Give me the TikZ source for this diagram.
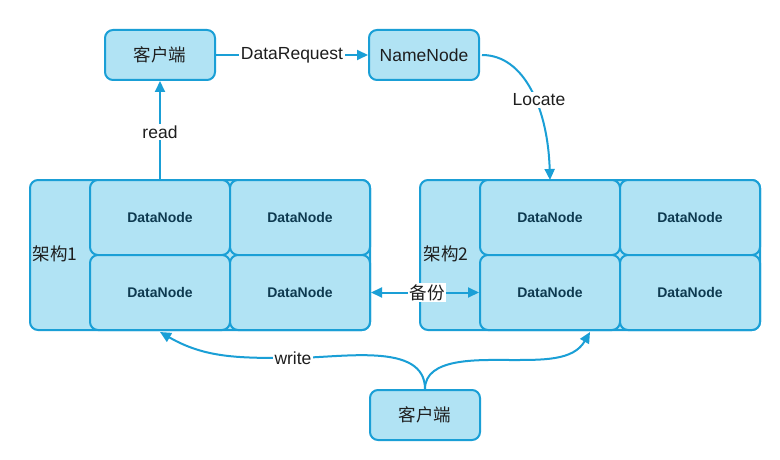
\documentclass[tikz,border=0pt]{standalone}
\usepackage{fontspec}
\setmainfont{Liberation Sans}
\newfontfamily\cjk{Noto Sans CJK SC}
\usetikzlibrary{arrows.meta,calc}
\definecolor{boxfill}{HTML}{B1E3F4}
\definecolor{boxline}{HTML}{1A9FD6}
\definecolor{dntext}{HTML}{0E3A50}
\definecolor{lbltext}{HTML}{1E1E1E}
\begin{document}
\begin{tikzpicture}[x=1pt,y=-1pt,
  box/.style={draw=boxline, fill=boxfill, line width=2pt, rounded corners=8pt, inner sep=0pt},
  client/.style={box, minimum width=110pt, minimum height=50pt, font=\fontsize{17.5}{19}\selectfont, text=lbltext},
  frame/.style={box, minimum width=340pt, minimum height=150pt},
  dn/.style={box, minimum width=140pt, minimum height=75pt, font=\fontsize{14}{16}\selectfont\bfseries, text=dntext},
  lbl/.style={font=\fontsize{17.5}{19}\selectfont, text=lbltext, inner sep=1.5pt},
  conn/.style={draw=boxline, line width=2pt},
  tip/.style={-{Triangle[length=11pt,width=10pt]}},
  tips/.style={{Triangle[length=11pt,width=10pt]}-{Triangle[length=11pt,width=10pt]}}
]
\path[use as bounding box, fill=white] (0,0) rectangle (780,460);

% top row
\node[client] (tc) at (160,55) {\cjk 客户端};
\node[client] (nn) at (424,55) {NameNode};

% left cluster
\node[frame] (c1) at (200,255) {};
\node[dn] (a11) at (160,217.5) {DataNode};
\node[dn] (a12) at (300,217.5) {DataNode};
\node[dn] (a21) at (160,292.5) {DataNode};
\node[dn] (a22) at (300,292.5) {DataNode};
\node[lbl, anchor=west] (l1) at (31,254) {\cjk 架构1};

% right cluster
\node[frame] (c2) at (590,255) {};
\node[dn] (b11) at (550,217.5) {DataNode};
\node[dn] (b12) at (690,217.5) {DataNode};
\node[dn] (b21) at (550,292.5) {DataNode};
\node[dn] (b22) at (690,292.5) {DataNode};
\node[lbl, anchor=west] (l2) at (422,254) {\cjk 架构2};

% bottom client
\node[client] (bc) at (425,415) {\cjk 客户端};

% DataRequest
\draw[conn, tip] (tc.east) -- node[lbl, fill=white] (dr) {DataRequest} (nn.west);

% read
\draw[conn, tip] (tc.south |- c1.north) -- node[lbl, fill=white, pos=0.48] (rd) {read} (tc.south);

% Locate
\coordinate (loc) at (550,180);
\draw[conn, tip] ([xshift=2pt]nn.east) .. controls (525,55) and (548,110) .. (loc);
\node[lbl, fill=white] (lt) at (539,100) {Locate};

% backup
\draw[conn, tips] (a22.east) -- node[lbl, fill=white, pos=0.52] (bk) {\cjk 备份} (b21.west);

% write
\coordinate (w0) at (293,358);
\coordinate (w1) at (160,332);
\coordinate (w2) at (510,360);
\coordinate (w3) at (590,332);
\draw[conn, tip] (bc.north) to[out=90, in=0, looseness=0.9] (w0) to[out=180, in=-30] (w1);
\draw[conn, tip] (bc.north) to[out=90, in=180, looseness=0.9] (w2) to[out=0, in=-120] (w3);
\node[lbl, fill=white] (wt) at (w0) {write};
\end{tikzpicture}
\end{document}
